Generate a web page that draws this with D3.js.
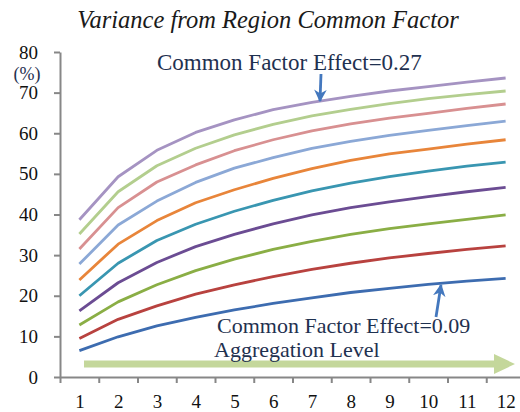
<!DOCTYPE html>
<html><head><meta charset="utf-8">
<script src="https://cdn.jsdelivr.net/npm/d3@7"></script>
<style>
html,body{margin:0;padding:0;background:#fff;}
svg{display:block;}
svg text{font-family:"Liberation Serif","Tinos","Times New Roman","DejaVu Serif",serif;}
</style></head>
<body>
<svg id="chart" width="520" height="412"></svg>
<script>
const levels = [1,2,3,4,5,6,7,8,9,10,11,12];
const yTicks = [0,10,20,30,40,50,60,70,80];
const seriesNames = ["0.09","s2","s3","s4","s5","s6","s7","s8","s9","0.27"];
const s1  = [6.5, 9.9, 12.6, 14.7, 16.5, 18.1, 19.5, 20.8, 21.8, 22.8, 23.6, 24.3];
const s2  = [9.5, 14.2, 17.5, 20.4, 22.7, 24.7, 26.5, 28.0, 29.3, 30.4, 31.4, 32.3];
const s3  = [12.8, 18.5, 22.7, 26.2, 29.0, 31.4, 33.4, 35.1, 36.5, 37.7, 38.8, 39.9];
const s4  = [16.3, 23.2, 28.2, 32.1, 35.1, 37.7, 39.9, 41.7, 43.1, 44.4, 45.6, 46.7];
const s5  = [20.0, 28.0, 33.6, 37.6, 40.8, 43.5, 45.8, 47.7, 49.3, 50.7, 51.9, 52.9];
const s6  = [23.9, 32.7, 38.5, 42.9, 46.1, 48.9, 51.3, 53.3, 54.9, 56.1, 57.3, 58.4];
const s7  = [27.8, 37.4, 43.3, 47.9, 51.4, 54.0, 56.3, 58.0, 59.5, 60.7, 61.9, 63.0];
const s8  = [31.5, 41.7, 48.0, 52.2, 55.7, 58.4, 60.6, 62.3, 63.7, 64.9, 66.1, 67.2];
const s9  = [35.2, 45.6, 52.0, 56.3, 59.6, 62.2, 64.3, 65.9, 67.3, 68.5, 69.5, 70.4];
const s10 = [38.7, 49.3, 55.8, 60.2, 63.3, 65.8, 67.6, 69.1, 70.4, 71.5, 72.6, 73.6];
const allSeries = [s1,s2,s3,s4,s5,s6,s7,s8,s9,s10];
const colors = ["#3D6CB0","#B8423F","#8AAE45","#6B4C93","#3996B1","#E8853A","#8BA8D6","#D89091","#B3CE8E","#A593C2"];

const svg = d3.select("#chart");
const x = d3.scaleLinear().domain([0.5, 12.5]).range([60, 525]);
const y = d3.scaleLinear().domain([0, 80]).range([377, 52]);
const axisColor = "#878787";

// title
svg.append("text").attr("x", 268).attr("y", 28).attr("text-anchor","middle")
  .attr("font-style","italic").attr("font-size", 24.5)
  .attr("fill","#1a1a1a").text("Variance from Region Common Factor");

// y axis
const yAxis = svg.append("g").attr("transform","translate(60,0)")
  .call(d3.axisLeft(y).tickValues(yTicks).tickSize(6).tickPadding(16).tickSizeOuter(0));
yAxis.attr("font-family", null);
yAxis.select(".domain").attr("stroke", axisColor).attr("stroke-width", 2);
yAxis.selectAll(".tick line").attr("stroke", axisColor).attr("stroke-width", 2);
yAxis.selectAll("text").attr("font-size", 19).attr("fill","#111");

svg.append("text").attr("x", 27).attr("y", 80).attr("text-anchor","middle")
  .attr("font-size", 18).attr("fill","#1F3150").text("(%)");

// x axis: tick marks at category boundaries
const bounds = d3.range(0.5, 13, 1);
const xAxisTicks = svg.append("g").attr("transform","translate(0,377)")
  .call(d3.axisBottom(x).tickValues(bounds).tickSize(6).tickFormat("").tickSizeOuter(0));
xAxisTicks.select(".domain").attr("stroke", axisColor).attr("stroke-width", 2);
xAxisTicks.selectAll(".tick line").attr("stroke", axisColor).attr("stroke-width", 2);
const xAxisLabels = svg.append("g").attr("transform","translate(0,377)")
  .call(d3.axisBottom(x).tickValues(levels).tickSize(0).tickPadding(18).tickFormat(d3.format("d")));
xAxisLabels.attr("font-family", null);
xAxisLabels.select(".domain").remove();
xAxisLabels.selectAll("text").attr("font-size", 19).attr("fill","#111");

// lines
const line = d3.line().x((d,i)=>x(levels[i])).y(d=>y(d));
svg.append("g").selectAll("path").data(allSeries).join("path")
  .attr("d", line).attr("fill","none")
  .attr("stroke",(d,i)=>colors[i]).attr("stroke-width", 2.8)
  .attr("stroke-linejoin","round");

// green aggregation arrow
const defs = svg.append("defs");
defs.append("marker").attr("id","bluehead").attr("viewBox","0 0 10 10")
  .attr("refX",9).attr("refY",5).attr("markerWidth",4.5).attr("markerHeight",4.5)
  .attr("orient","auto-start-reverse").attr("markerUnits","strokeWidth")
  .append("path").attr("d","M0,0 L10,5 L0,10 L3,5 Z").attr("fill","#4478BE");

svg.append("path")
  .attr("d", "M84,360.5 L494,360.5 L494,354 L515,364 L494,374 L494,367.5 L84,367.5 Z")
  .attr("fill","#C4D79B");

// annotations
svg.append("text").attr("x",157).attr("y",70)
  .attr("font-size", 23).attr("fill","#1F3150")
  .text("Common Factor Effect=0.27");
svg.append("line").attr("x1",321).attr("y1",74).attr("x2",320).attr("y2",101)
  .attr("stroke","#4478BE").attr("stroke-width",2.8).attr("marker-end","url(#bluehead)");

svg.append("text").attr("x",217).attr("y",333)
  .attr("font-size", 22).attr("fill","#1F3150")
  .text("Common Factor Effect=0.09");
svg.append("text").attr("x",214).attr("y",357)
  .attr("font-size", 22).attr("fill","#1F3150")
  .text("Aggregation Level");
svg.append("line").attr("x1",436).attr("y1",317).attr("x2",441).attr("y2",285)
  .attr("stroke","#4478BE").attr("stroke-width",2.8).attr("marker-end","url(#bluehead)");
</script>
</body></html>
